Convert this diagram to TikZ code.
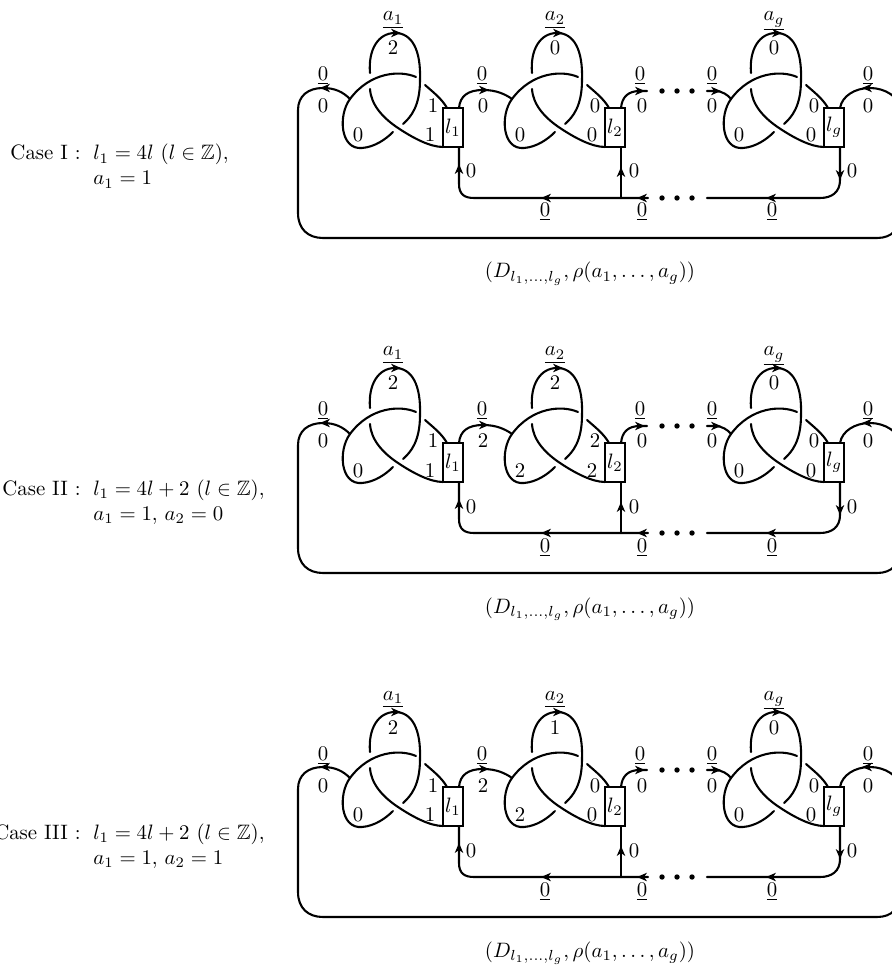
\documentclass[tikz,border=0pt]{standalone}
\usepackage{amsmath,amssymb}
\tikzset{
 strand/.style={line width=1pt, line cap=round, line join=round},
 boxst/.style={draw, line width=1pt, fill=white, inner sep=0pt, minimum width=9.6pt, minimum height=18.7pt},
 lab/.style={anchor=base, inner sep=0pt},
 txt/.style={inner sep=0pt},
}
\newcommand\arrowhd[2]{\fill[shift={#1},rotate=#2] (1,0) -- (-9,-4.3) -- (-6,0) -- (-9,4.3) -- cycle;}
\newcommand\trefoil[8]{%
 \begin{scope}[shift={(350+#2,99)}]
  \draw[strand] (66,-22) .. controls (50,-29) and (20,-27) .. (0,0) .. controls (-12,16) and (-10,51) .. (12,49) .. controls (25,48) and (36,40) .. (43,33);
  \draw[strand] (53,25) .. controls (61,18) and (70,7) .. (70,-19) .. controls (71,-49) and (62,-66) .. (45,-66) .. controls (28,-66) and (18,-49) .. (20,-26);
  \draw[strand] (20,-10) .. controls (21,6) and (33,19) .. (48,29) .. controls (63,39) and (80,48) .. (93,48);
  \draw[strand] (75,-14) .. controls (83,-7) and (92,0) .. (97,9);
  \node[boxst] (#1box) at (103,28.5) {$#3$};
  \arrowhd{(50,-66)}{0}
  \node[lab] (#1a) at (43,-78) {$\underline{#4}$};
  \node[lab] (#1top) at (43,-44) {$#5$};
  \node[lab] (#1ur) at (83,14) {$#6$};
  \node[lab] (#1lr) at (80,43) {$#7$};
  \node[lab] (#1bl) at (8,43) {$#8$};
 \end{scope}}
\newcommand\common[1]{%
 \draw[strand] (350,99) .. controls (343,92) and (335,88) .. (323,88) .. controls (308,88) and (298,96) .. (298,110) -- (298,213) .. controls (298,229) and (308,238) .. (323,238) -- (877,238) .. controls (892,238) and (900,229) .. (900,214) -- (900,110) .. controls (900,97) and (885,88) .. (870,88) .. controls (855,88) and (842,96) .. (840,108);
 \draw[strand] (459,108) .. controls (460,96) and (468,90) .. (483,90) .. controls (496,90) and (505,94) .. (512,99);
 \draw[strand] (621,108) .. controls (622,97) and (628,91) .. (640,91) -- (647,91);
 \draw[strand] (707,91) -- (715,91) .. controls (722,91) and (728,95) .. (731,99);
 \draw[strand] (459,147) -- (459,184) .. controls (459,194) and (464,198) .. (474,198) -- (648,198);
 \draw[strand] (621,147) -- (621,198);
 \draw[strand] (840,147) -- (840,180) .. controls (840,192) and (832,198) .. (820,198) -- (707,198);
 \foreach \x in {662,677,692} {\fill (\x,91) circle[radius=2.7]; \fill (\x,198) circle[radius=2.7];}
 \arrowhd{(321,88)}{180}
 \arrowhd{(488,90)}{0}
 \arrowhd{(644,91)}{0}
 \arrowhd{(720,91)}{0}
 \arrowhd{(863,88)}{180}
 \arrowhd{(459,165)}{90}
 \arrowhd{(621,168)}{90}
 \arrowhd{(840,179)}{-90}
 \arrowhd{(542,198)}{180}
 \arrowhd{(638,198)}{180}
 \arrowhd{(767,198)}{180}
 \trefoil{#1t1}{0}{l_1}{a_1}{2}{1}{1}{0}
 \trefoil{#1tg}{381}{l_g}{a_g}{0}{0}{0}{0}
 \node[lab] (#1L0) at (323,81) {$\underline{0}$};
 \node[lab] (#1L1) at (323,113) {$0$};
 \node[lab] (#1M0) at (482,81) {$\underline{0}$};
 \node[lab] (#1N0) at (640,81) {$\underline{0}$};
 \node[lab] (#1N1) at (642,113) {$0$};
 \node[lab] (#1P0) at (712,81) {$\underline{0}$};
 \node[lab] (#1P1) at (712,113) {$0$};
 \node[lab] (#1R0) at (868,81) {$\underline{0}$};
 \node[lab] (#1R1) at (868,113) {$0$};
 \node[lab] (#1V1) at (471,178) {$0$};
 \node[lab] (#1V2) at (634,178) {$0$};
 \node[lab] (#1V3) at (852,178) {$0$};
 \node[lab] (#1B1) at (545,217) {$\underline{0}$};
 \node[lab] (#1B2) at (642,217) {$\underline{0}$};
 \node[lab] (#1B3) at (772,217) {$\underline{0}$};
 \node[lab] (#1cap) at (590,278) {$(D_{l_1,\ldots,l_g},\rho(a_1,\ldots,a_g))$};
}
\begin{document}
\begin{tikzpicture}[x=0.48pt,y=-0.48pt]
\useasboundingbox (0,0) rectangle (891,971);
% Panel 1
\common{p}
\trefoil{pt2}{162}{l_2}{a_2}{0}{0}{0}{0}
\node[lab] (pmid) at (483,113) {$0$};
\node[txt,anchor=base east] (pcase) at (81,160) {Case I :};
\node[txt,anchor=base west] (pl1) at (93,160) {$l_1=4l\ (l\in\mathbb{Z}),$};
\node[txt,anchor=base west] (pl2) at (93,185) {$a_1=1$};
% Panel 2
\begin{scope}[shift={(0,335)}]
\common{q}
\trefoil{qt2}{162}{l_2}{a_2}{2}{2}{2}{2}
\node[lab] (qmid) at (483,113) {$2$};
\node[txt,anchor=base east] (qcase) at (81,160) {Case II :};
\node[txt,anchor=base west] (ql1) at (93,160) {$l_1=4l+2\ (l\in\mathbb{Z}),$};
\node[txt,anchor=base west] (ql2) at (93,185) {$a_1=1,\,a_2=0$};
\end{scope}
% Panel 3
\begin{scope}[shift={(0,679)}]
\common{r}
\trefoil{rt2}{162}{l_2}{a_2}{1}{0}{0}{2}
\node[lab] (rmid) at (483,113) {$2$};
\node[txt,anchor=base east] (rcase) at (81,160) {Case III :};
\node[txt,anchor=base west] (rl1) at (93,160) {$l_1=4l+2\ (l\in\mathbb{Z}),$};
\node[txt,anchor=base west] (rl2) at (93,185) {$a_1=1,\,a_2=1$};
\end{scope}
\end{tikzpicture}
\end{document}
